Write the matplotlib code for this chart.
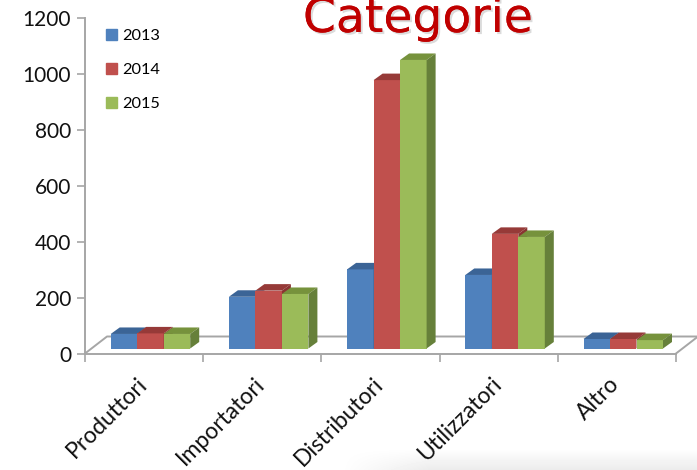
import numpy as np
import matplotlib
matplotlib.use("Agg")
import matplotlib.pyplot as plt
import matplotlib.patheffects as pe
from matplotlib.patches import Patch

categories = ["Produttori", "Importatori", "Distributori", "Utilizzatori", "Altro"]
years = ["2013", "2014", "2015"]
v2013 = [52, 185, 283, 263, 34]
v2014 = [54, 207, 960, 410, 34]
v2015 = [52, 195, 1032, 399, 30]
yticks = [0, 200, 400, 600, 800, 1000, 1200]

front_cols = ["#4f81bd", "#c0504d", "#9bbb59"]
top_cols = ["#3b6496", "#963a38", "#76923c"]
side_cols = ["#375a87", "#8a3432", "#66803a"]
grey = "#a6a6a6"

plt.rcParams["font.family"] = "Lato"
W, H = 697, 470
fig = plt.figure(figsize=(W / 100, H / 100), dpi=100)

# faint grey shading along the lower right edge of the slide
bg = fig.add_axes([0, 0, 1, 1], zorder=0)
bg.axis("off")
ramp_x = np.clip((np.arange(W) - 340) / 90, 0, 1)
ramp_y = np.clip((np.arange(H) - 448) / 22, 0, 1)
bg.imshow(1 - 0.08 * np.outer(ramp_y, ramp_x), cmap="gray", vmin=0, vmax=1, aspect="auto")

ax = fig.add_axes([85 / W, (H - 353.5) / H, 591 / W, 335.5 / H], zorder=1)
ax.patch.set_alpha(0)
ax.set_xlim(0, 5)
ax.set_ylim(0, 1200)

# pixel sizes turned into data units
px_x = 5 / 591
px_y = 1200 / 335.5

# floor
floor_dx, floor_dy = 22 * px_x, 17 * px_y
ax.plot([0, floor_dx, 5 + floor_dx], [0, floor_dy, floor_dy], color=grey, lw=1.4, clip_on=False, zorder=1)
ax.plot([5, 5 + floor_dx], [0, floor_dy], color=grey, lw=1.4, clip_on=False, zorder=1)

# bars
bar_w = 26.5 * px_x
d_x, d_y = 9 * px_x, 6.5 * px_y
base = 5 * px_y
offset = 25.7 * px_x
for j, vals in enumerate([v2013, v2014, v2015]):
    for i, v in enumerate(vals):
        x0 = i + offset + j * bar_w
        x1 = x0 + bar_w
        top = base + v
        z = 3 + j
        ax.fill([x0, x1, x1, x0], [base, base, top, top], color=front_cols[j], lw=0, clip_on=False, zorder=z)
        ax.fill([x0, x1, x1 + d_x, x0 + d_x], [top, top, top + d_y, top + d_y], color=top_cols[j], lw=0, clip_on=False, zorder=z)
        ax.fill([x1, x1 + d_x, x1 + d_x, x1], [base, base + d_y, top + d_y, top], color=side_cols[j], lw=0, clip_on=False, zorder=z)

for s in ["top", "right"]:
    ax.spines[s].set_visible(False)
for s in ["left", "bottom"]:
    ax.spines[s].set_color(grey)
    ax.spines[s].set_linewidth(1.4)
    ax.spines[s].set_zorder(2)

ax.set_yticks(yticks)
ax.tick_params(axis="y", color=grey, length=6, width=1.2, labelsize=15, pad=4, labelcolor="#111111")
ax.set_xticks(range(6))
ax.set_xticklabels([])
ax.tick_params(axis="x", which="major", color=grey, length=6, width=1.2)
# labels sit a little left of the category centre
ax.set_xticks(np.arange(5) + 0.5 - 8 * px_x, minor=True)
ax.set_xticklabels(categories, minor=True, rotation=45, ha="right", rotation_mode="anchor", fontsize=16.5, color="#111111")
ax.tick_params(axis="x", which="minor", length=0, pad=14)

handles = [Patch(color=c, label=y) for c, y in zip(front_cols, years)]
ax.legend(handles=handles, loc="upper left", bbox_to_anchor=(21 / 591, 1 - 11 / 335.5), frameon=False,
          fontsize=11.8, handlelength=0.65, handleheight=0.65, handletextpad=0.35, labelspacing=1.2, borderpad=0, borderaxespad=0)

title = fig.text(418 / W, 1 - 32 / H, "Categorie", family="DejaVu Sans", fontsize=34, color="#c00000", ha="center", va="baseline", zorder=5)
title.set_path_effects([pe.withSimplePatchShadow(offset=(1.5, -1.5), shadow_rgbFace="#999999", alpha=0.35), pe.Normal()])

fig.savefig("out.png", dpi=100)
